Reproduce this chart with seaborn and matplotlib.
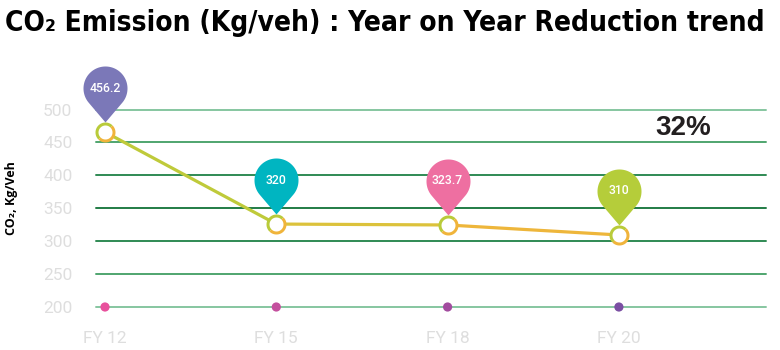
import numpy as np
import pandas as pd
import matplotlib
matplotlib.use("Agg")
import matplotlib.pyplot as plt
import seaborn as sns
from matplotlib.path import Path
from matplotlib import font_manager

# ---------------- data ----------------
years = ["FY 12", "FY 15", "FY 18", "FY 20"]
co2_plotted = [465.8, 326.0, 324.6, 309.4]          # marker heights as drawn
co2_labels = ["456.2", "320", "323.7", "310"]       # values printed in the pins
y_ticks = [200, 250, 300, 350, 400, 450, 500]
reduction_text = "32%"
title_text = "CO\u2082 Emission (Kg/veh) : Year on Year Reduction trend"
ylabel_text = "CO\u2082, Kg/Veh"

# ---------------- styles ----------------
pin_colors = ["#7b78b8", "#00b5c1", "#ee6fa1", "#b5cd3a"]
base_dot_colors = ["#e8509c", "#c4509e", "#a24c9f", "#7b4fa3"]
segment_colors = ["#bfca3a", "#dcc23b", "#eeb63b"]
grid_colors = ["#86c6a0", "#4fa56f", "#2f8a54", "#217c45", "#2f8a54", "#4fa56f", "#86c6a0"]

sns.set_theme(style="white")
# look for a condensed bold face for the title, fall back to Roboto
title_font, title_stretch = "Roboto", "normal"
for f in font_manager.fontManager.ttflist:
    st = f.stretch if isinstance(f.stretch, str) else "normal"
    if "condensed" in str(st) and (f.weight in ("bold", 700) or str(f.weight) in ("700", "bold")):
        title_font, title_stretch = f.name, st
        break
if title_font == "Roboto":
    for nm in ("Liberation Sans Narrow", "Roboto Condensed", "Open Sans Condensed"):
        if any(f.name == nm for f in font_manager.fontManager.ttflist):
            title_font = nm
            break
plt.rcParams["font.family"] = ["Roboto", "DejaVu Sans"]

W, H = 780, 350
fig = plt.figure(figsize=(W / 100, H / 100), dpi=100)
ax_left, ax_right, ax_top, ax_bottom = 96, 766, 109.5, 307
ax = fig.add_axes([ax_left / W, (H - ax_bottom) / H,
                   (ax_right - ax_left) / W, (ax_bottom - ax_top) / H])

x_pos = np.arange(len(years))
px_per_cat = 171.3
ax.set_xlim(-(105 - ax_left) / px_per_cat, (ax_right - 105) / px_per_cat)
ax.set_ylim(200, 500)

df = pd.DataFrame({"year": years, "x": x_pos, "co2": co2_plotted})

# grid lines
ax.set_yticks(y_ticks)
ax.grid(axis="y", linewidth=1.4)
ax.grid(axis="x", visible=False)
for gl, c in zip(ax.get_ygridlines(), grid_colors):
    gl.set_color(c)
    gl.set_clip_on(False)
for s in ax.spines.values():
    s.set_visible(False)

# base dots on the 200 line
sns.scatterplot(x=df["x"], y=[y_ticks[0]] * len(years), hue=df["year"],
                palette=base_dot_colors, s=44, linewidth=0, legend=False,
                ax=ax, zorder=4, clip_on=False)

# main line, segment by segment for colour shading
for i in range(len(years) - 1):
    seg = df.iloc[i:i + 2]
    sns.lineplot(data=seg, x="x", y="co2", color=segment_colors[i],
                 linewidth=2.3, ax=ax, zorder=5, legend=False)

# hollow markers with two-tone ring
ms = 17 * 0.72
mew = 3 * 0.72
t1 = np.linspace(np.pi / 4, 5 * np.pi / 4, 40)
t2 = np.linspace(5 * np.pi / 4, 9 * np.pi / 4, 40)
arc_a = Path(np.column_stack([np.cos(t1), np.sin(t1)]))
arc_b = Path(np.column_stack([np.cos(t2), np.sin(t2)]))
ax.plot(df["x"], df["co2"], "o", ms=ms, mfc="white", mew=0, zorder=6, clip_on=False)
ax.plot(df["x"], df["co2"], linestyle="none", marker=arc_a, ms=ms, mfc="none",
        mec="#b9cb3a", mew=mew, zorder=7, clip_on=False)
ax.plot(df["x"], df["co2"], linestyle="none", marker=arc_b, ms=ms, mfc="none",
        mec="#f0b43b", mew=mew, zorder=7, clip_on=False)

# pin (teardrop) markers with labels
r, d, cy = 22.0, 34.0, 44.0
alpha = np.arccos(r / d)
th = np.linspace(-np.pi / 2 + alpha, 3 * np.pi / 2 - alpha, 80)
verts = [(0, cy - d)] + [(r * np.cos(t), cy + r * np.sin(t)) for t in th] + [(0, cy - d)]
codes = [Path.MOVETO] + [Path.LINETO] * len(th) + [Path.CLOSEPOLY]
pin_path = Path(verts, codes)
pin_ms = 2 * (cy + r) * 0.72
for xi, yi, lbl, col in zip(df["x"], df["co2"], co2_labels, pin_colors):
    ax.plot([xi], [yi], linestyle="none", marker=pin_path, ms=pin_ms, mfc=col,
            mew=0, zorder=8, clip_on=False)
    ax.annotate(lbl, (xi, yi), xytext=(0, cy * 0.72), textcoords="offset points",
                ha="center", va="center", color="white", fontsize=8.8,
                fontweight="medium", zorder=9, annotation_clip=False)

# ticks
ax.set_xticks(x_pos)
ax.set_xticklabels(years)
ax.tick_params(axis="both", length=0, labelsize=12.5, labelcolor="#dedede")
ax.tick_params(axis="y", pad=17)
ax.tick_params(axis="x", pad=17)
ax.set_xlabel("")
ax.set_ylabel("")

# 32% callout
ax.text(3.374, 472.6, reduction_text, ha="center", va="center", fontsize=20,
        fontweight="bold", color="#231f20", family=["Liberation Sans", "DejaVu Sans"])

# y label
fig.text(12 / W, 1 - 198 / H, ylabel_text, rotation=90, ha="center", va="center",
         fontsize=9, fontweight="bold", color="black",
         family=["Open Sans", "DejaVu Sans"])

# title fitted to width
title = fig.text(5 / W, 1 - 23 / H, title_text, ha="left", va="center", fontsize=27,
                 fontweight="bold", fontstretch=title_stretch, color="black",
                 family=[title_font, "DejaVu Sans"])
fig.canvas.draw()
bb = title.get_window_extent()
title.set_fontsize(27 * 760 / bb.width)

fig.savefig("out.png", dpi=100)
